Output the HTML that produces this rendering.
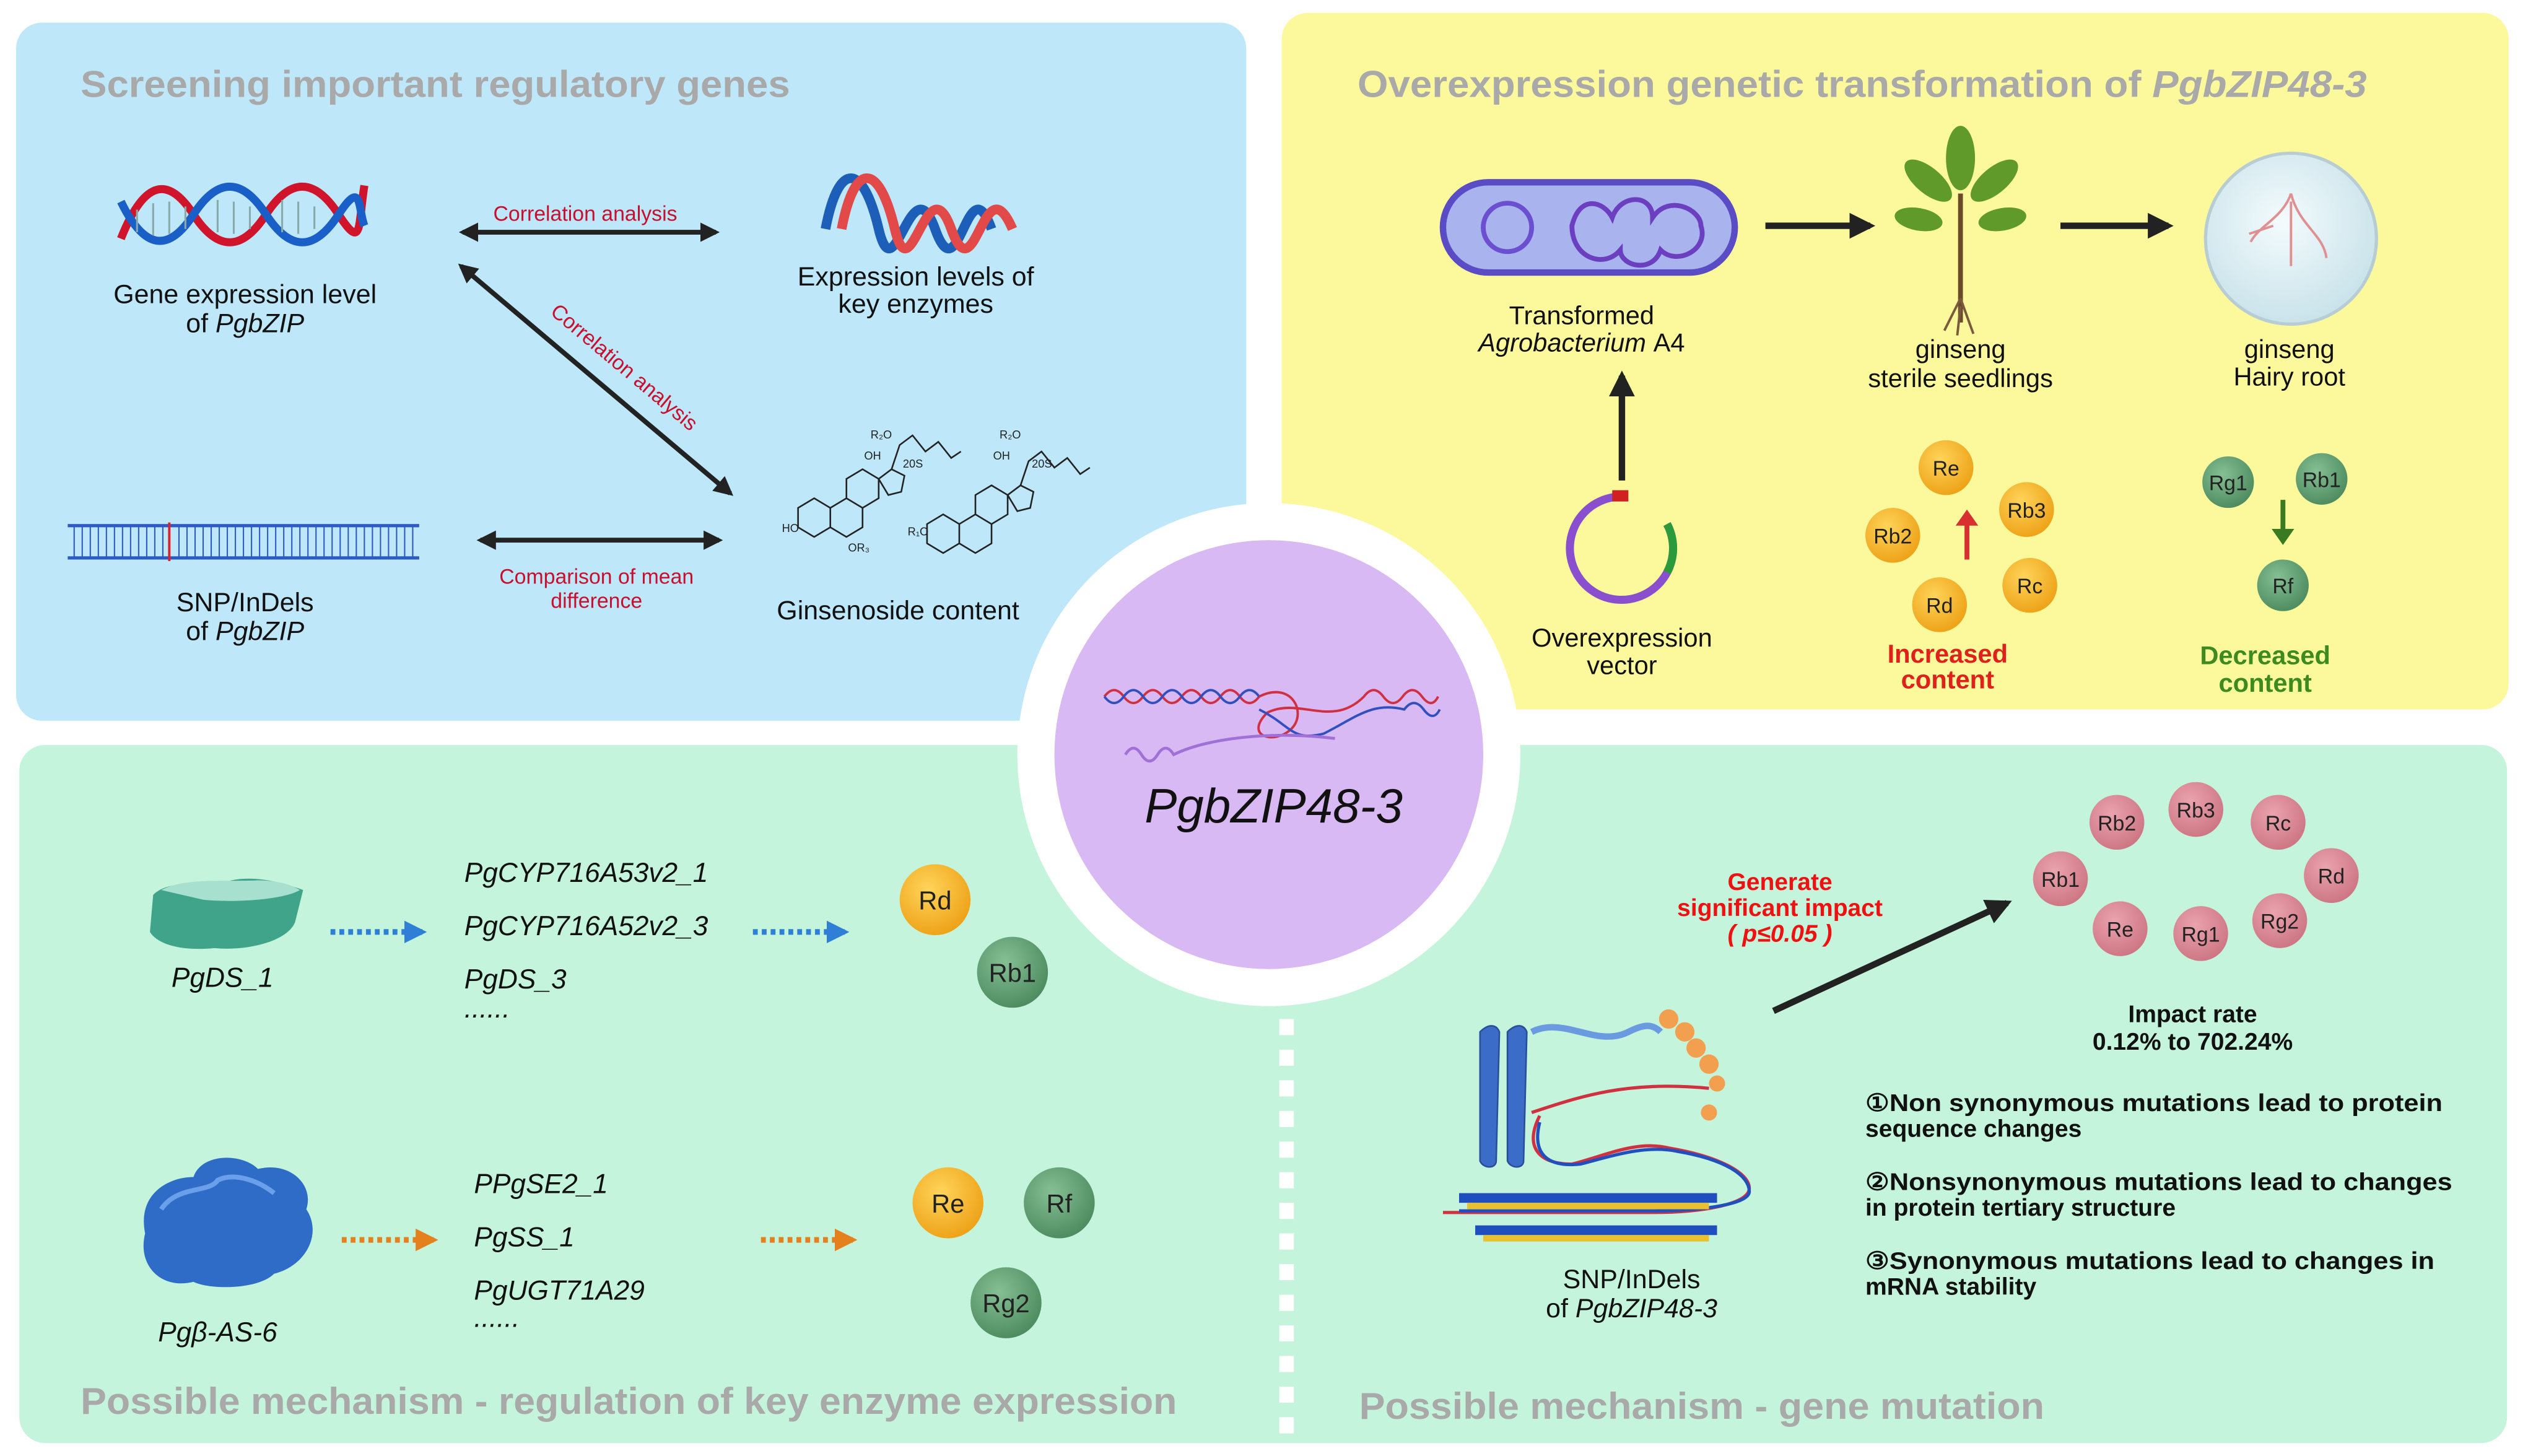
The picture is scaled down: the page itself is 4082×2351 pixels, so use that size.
<!DOCTYPE html>
<html><head><meta charset="utf-8"><style>html,body{margin:0;padding:0;background:#fff}svg{display:block}text{font-family:"Liberation Sans",sans-serif}</style></head><body>
<svg width="4082" height="2351" viewBox="0 0 1568 903" xmlns="http://www.w3.org/2000/svg">
<defs>
<marker id="ah" viewBox="0 0 10 10" refX="8" refY="5" markerWidth="4" markerHeight="4" orient="auto-start-reverse"><path d="M0,0 L10,5 L0,10 z" fill="#222"/></marker>
<marker id="ab" viewBox="0 0 10 10" refX="8" refY="5" markerWidth="4" markerHeight="4" orient="auto"><path d="M0,0 L10,5 L0,10 z" fill="#2f7fd6"/></marker>
<marker id="ao" viewBox="0 0 10 10" refX="8" refY="5" markerWidth="4" markerHeight="4" orient="auto"><path d="M0,0 L10,5 L0,10 z" fill="#e5801e"/></marker>
<radialGradient id="go" cx="0.4" cy="0.35" r="0.7"><stop offset="0" stop-color="#ffd45a"/><stop offset="1" stop-color="#eda015"/></radialGradient>
<radialGradient id="gg" cx="0.4" cy="0.35" r="0.7"><stop offset="0" stop-color="#86bf94"/><stop offset="1" stop-color="#4b8a5e"/></radialGradient>
<radialGradient id="gp" cx="0.4" cy="0.35" r="0.7"><stop offset="0" stop-color="#eaa3ad"/><stop offset="1" stop-color="#cc7482"/></radialGradient>
<radialGradient id="gd" cx="0.45" cy="0.4" r="0.6"><stop offset="0" stop-color="#f4fbfd"/><stop offset="1" stop-color="#c9e3ea"/></radialGradient>
</defs>

<!-- panels -->
<rect x="10" y="14" width="763" height="433" rx="16" fill="#bee8fa"/>
<rect x="795" y="8" width="761" height="432" rx="16" fill="#fbf99c"/>
<rect x="12" y="462" width="1543" height="433" rx="16" fill="#c4f5dc"/>
<line x1="798" y1="632" x2="798" y2="895" stroke="#fff" stroke-width="9" stroke-dasharray="10 9"/>

<!-- titles -->
<g font-weight="bold" fill="#a9a9a9" font-size="23">
<text x="50" y="60" textLength="440" lengthAdjust="spacingAndGlyphs">Screening important regulatory genes</text>
<text x="842" y="60" textLength="626" lengthAdjust="spacingAndGlyphs">Overexpression genetic transformation of <tspan font-style="italic">PgbZIP48-3</tspan></text>
<text x="50" y="877" textLength="680" lengthAdjust="spacingAndGlyphs">Possible mechanism - regulation of key enzyme expression</text>
<text x="843" y="880" textLength="425" lengthAdjust="spacingAndGlyphs">Possible mechanism - gene mutation</text>
</g>

<!-- panel 1 -->
<g stroke-width="5" fill="none">
<path d="M75,148 C90,110 105,110 120,133 S150,156 165,133 S195,110 210,133 S222,140 226,115" stroke="#d0142c"/>
<path d="M75,125 C90,156 105,156 120,133 S150,110 165,133 S195,156 210,133 S222,130 226,140" stroke="#1a5ec8"/>
</g>
<g stroke="#8aa" stroke-width="1.2"><path d="M85,130v14M95,126v20M105,125v20M115,128v14M135,124v20M145,125v20M155,128v14M175,124v20M185,125v20M195,128v14"/></g>
<g stroke-width="6" fill="none">
<path d="M512,142 C520,100 535,100 545,142 S565,100 580,142 S600,100 615,142" stroke="#1d5fb8"/>
<path d="M522,142 C530,100 545,100 555,142 S575,100 590,142 S610,100 628,142" stroke="#e24a4a"/>
</g>
<g font-size="16.5" fill="#111" text-anchor="middle">
<text x="152" y="188">Gene expression level</text>
<text x="152" y="206">of <tspan font-style="italic">PgbZIP</tspan></text>
<text x="568" y="177">Expression levels of</text>
<text x="568" y="194">key enzymes</text>
<text x="557" y="384">Ginsenoside content</text>
<text x="152" y="379">SNP/InDels</text>
<text x="152" y="397">of <tspan font-style="italic">PgbZIP</tspan></text>
</g>
<g stroke="#222" stroke-width="3">
<line x1="287" y1="144" x2="444" y2="144" marker-start="url(#ah)" marker-end="url(#ah)"/>
<line x1="286" y1="165" x2="453" y2="306" marker-start="url(#ah)" marker-end="url(#ah)"/>
<line x1="298" y1="335" x2="446" y2="335" marker-start="url(#ah)" marker-end="url(#ah)"/>
</g>
<g font-size="13" fill="#c8102e" text-anchor="middle">
<text x="363" y="137">Correlation analysis</text>
<text x="387" y="232" transform="rotate(40 387 228)">Correlation analysis</text>
<text x="370" y="362">Comparison of mean</text>
<text x="370" y="377">difference</text>
</g>
<!-- SNP ladder -->
<g stroke="#2d5bc4"><line x1="42" y1="326" x2="260" y2="326" stroke-width="2"/><line x1="42" y1="346" x2="260" y2="346" stroke-width="2"/>
<path d="M46,326v20M51,326v20M56,326v20M61,326v20M66,326v20M71,326v20M76,326v20M81,326v20M86,326v20M91,326v20M96,326v20M101,326v20M111,326v20M116,326v20M121,326v20M126,326v20M131,326v20M136,326v20M141,326v20M146,326v20M151,326v20M156,326v20M161,326v20M166,326v20M171,326v20M176,326v20M181,326v20M186,326v20M191,326v20M196,326v20M201,326v20M206,326v20M211,326v20M216,326v20M221,326v20M226,326v20M231,326v20M236,326v20M241,326v20M246,326v20M251,326v20M256,326v20" stroke-width="0.8"/></g>
<line x1="105" y1="324" x2="105" y2="348" stroke="#e0202a" stroke-width="1.5"/>
<!-- ginsenoside structures -->
<g stroke="#222" stroke-width="1" fill="none">
<path d="M495,315 l10,-6 l10,6 v12 l-10,6 l-10,-6z M515,315 l10,-6 l10,6 v12 l-10,6 l-10,-6z M525,297 l10,-6 l10,6 v12 l-10,6 l-10,-6z M545,297 l8,-6 l8,4 l-2,10 l-8,2z M553,291 l5,-15 l8,-6 l8,10 l8,-6 l8,10 l6,-4"/>
<path d="M575,325 l10,-6 l10,6 v12 l-10,6 l-10,-6z M595,325 l10,-6 l10,6 v12 l-10,6 l-10,-6z M605,307 l10,-6 l10,6 v12 l-10,6 l-10,-6z M625,307 l8,-6 l8,4 l-2,10 l-8,2z M633,301 l5,-15 l8,-6 l8,10 l8,-6 l8,10 l6,-4"/>
</g>
<g font-family="Liberation Serif" font-size="7" fill="#222"><text x="540" y="272">R₂O</text><text x="536" y="285">OH</text><text x="560" y="290">20S</text><text x="485" y="330">HO</text><text x="526" y="342">OR₃</text><text x="620" y="272">R₂O</text><text x="616" y="285">OH</text><text x="640" y="290">20S</text><text x="563" y="332">R₁O</text></g>

<!-- panel 2 -->
<rect x="895" y="113" width="181" height="56" rx="28" fill="#a9b4ef" stroke="#5a4cc4" stroke-width="4"/>
<circle cx="935" cy="141" r="15" fill="none" stroke="#6b4fd0" stroke-width="3"/>
<path d="M975,140 c5,-20 20,-15 25,-5 c5,-15 25,-15 25,0 c10,-15 30,-5 30,5 c5,15 -15,25 -25,15 c-5,15 -25,10 -25,0 c-10,12 -30,5 -30,-15z" fill="none" stroke="#6b3fbf" stroke-width="3"/>
<g stroke="#222" stroke-width="4">
<line x1="1095" y1="140" x2="1160" y2="140" marker-end="url(#ah)"/>
<line x1="1278" y1="140" x2="1345" y2="140" marker-end="url(#ah)"/>
<line x1="1006" y1="298" x2="1006" y2="233" marker-end="url(#ah)"/>
</g>
<!-- plant -->
<path d="M1216,200 V120" stroke="#6a4a2a" stroke-width="3"/>
<g fill="#5f9a2a"><ellipse cx="1216" cy="98" rx="9" ry="20"/><ellipse cx="1196" cy="112" rx="8" ry="18" transform="rotate(-50 1196 112)"/><ellipse cx="1237" cy="112" rx="8" ry="18" transform="rotate(50 1237 112)"/><ellipse cx="1190" cy="136" rx="7" ry="15" transform="rotate(-80 1190 136)"/><ellipse cx="1242" cy="136" rx="7" ry="15" transform="rotate(80 1242 136)"/></g>
<path d="M1216,185 l-10,20 M1216,185 l8,22 M1216,190 l-2,18" stroke="#7a5a3a" stroke-width="1.5"/>
<!-- dish -->
<circle cx="1421" cy="148" r="53" fill="url(#gd)" stroke="#b8ccd4" stroke-width="2"/>
<path d="M1421,120 c-5,15 -20,20 -25,30 M1421,120 c5,20 20,25 22,40 M1421,125 v40 M1410,140 l-15,5" stroke="#e09090" stroke-width="1.5" fill="none"/>
<g font-size="16" fill="#111" text-anchor="middle">
<text x="981" y="201">Transformed</text>
<text x="981" y="218" font-style="italic">Agrobacterium <tspan font-style="normal">A4</tspan></text>
<text x="1216" y="222">ginseng</text>
<text x="1216" y="240">sterile seedlings</text>
<text x="1420" y="222">ginseng</text>
<text x="1420" y="239">Hairy root</text>
<text x="1006" y="401">Overexpression</text>
<text x="1006" y="418">vector</text>
</g>
<!-- plasmid -->
<path d="M1006,308 a32,32 0 1 0 28,17" fill="none" stroke="#8a4fcf" stroke-width="5"/>
<path d="M1034,325 a32,32 0 0 1 0,30" fill="none" stroke="#2a9a3a" stroke-width="5"/>
<rect x="1000" y="304" width="10" height="7" fill="#d02020"/>
<!-- balls -->
<g font-size="13" text-anchor="middle" fill="#222">
<g><circle cx="1207" cy="290" r="17" fill="url(#go)"/><text x="1207" y="295">Re</text></g>
<g><circle cx="1174" cy="332" r="17" fill="url(#go)"/><text x="1174" y="337">Rb2</text></g>
<g><circle cx="1257" cy="316" r="17" fill="url(#go)"/><text x="1257" y="321">Rb3</text></g>
<g><circle cx="1259" cy="363" r="17" fill="url(#go)"/><text x="1259" y="368">Rc</text></g>
<g><circle cx="1203" cy="375" r="17" fill="url(#go)"/><text x="1203" y="380">Rd</text></g>
<g><circle cx="1382" cy="299" r="16" fill="url(#gg)"/><text x="1382" y="304">Rg1</text></g>
<g><circle cx="1440" cy="297" r="16" fill="url(#gg)"/><text x="1440" y="302">Rb1</text></g>
<g><circle cx="1416" cy="363" r="16" fill="url(#gg)"/><text x="1416" y="368">Rf</text></g>
</g>
<path d="M1220,347 V324" stroke="#d83030" stroke-width="3"/><path d="M1213,326 l7,-10 l7,10z" fill="#d83030"/>
<path d="M1416,310 V330" stroke="#3a7a20" stroke-width="3"/><path d="M1409,328 l7,10 l7,-10z" fill="#3a7a20"/>
<g font-size="16" font-weight="bold" text-anchor="middle">
<text x="1208" y="411" fill="#e0201a">Increased</text><text x="1208" y="427" fill="#e0201a">content</text>
<text x="1405" y="412" fill="#3d8a1e">Decreased</text><text x="1405" y="429" fill="#3d8a1e">content</text>
</g>

<!-- center circle -->
<circle cx="787" cy="468" r="156" fill="#fff"/>
<circle cx="787" cy="468" r="133" fill="#d8b9f4"/>
<path d="M685,432 q6,-8 12,0 t12,0 t12,0 t12,0 t12,0 t12,0 t12,0 t12,0" fill="none" stroke="#d03040" stroke-width="1.5"/>
<path d="M685,432 q6,8 12,0 t12,0 t12,0 t12,0 t12,0 t12,0 t12,0 t12,0" fill="none" stroke="#3050c0" stroke-width="1.5"/>
<path d="M781,432 c20,-10 30,10 20,20 c-10,10 -30,5 -15,-10 c20,-10 40,10 60,-10 q6,-8 12,0 t12,0 t12,0 t10,0" fill="none" stroke="#d03040" stroke-width="1.5"/>
<path d="M781,440 c20,10 20,20 40,15 c20,-10 30,-20 50,-15 q6,-8 12,0 t10,0" fill="none" stroke="#3050c0" stroke-width="1.5"/>
<path d="M698,468 q5,-8 10,0 t10,0 t10,0 c20,-10 60,-15 100,-10" fill="none" stroke="#a070d8" stroke-width="1.8"/>
<text x="790" y="510" font-size="30" font-style="italic" text-anchor="middle" fill="#111">PgbZIP48-3</text>

<!-- panel 3 -->
<path d="M95,555 c10,-10 30,-5 45,-8 c15,-5 35,0 48,5 l-5,20 c-5,12 -30,18 -50,16 c-20,2 -35,-2 -40,-10z" fill="#3fa48a"/>
<path d="M100,552 c15,-8 40,-5 60,-6 c10,0 20,2 26,6 c-10,6 -40,8 -60,6z" fill="#a7e0cf"/>
<path d="M90,765 c-5,-25 15,-35 30,-35 c5,-15 30,-15 40,-5 c20,-5 35,10 30,25 c10,15 0,35 -20,40 c-10,10 -40,10 -50,5 c-20,5 -35,-10 -30,-30z" fill="#2f6cc8"/>
<path d="M100,750 c10,-15 30,-10 35,-18 c10,-5 25,0 35,8" fill="none" stroke="#6aa0ea" stroke-width="3"/>
<g font-size="17" font-style="italic" fill="#111">
<text x="138" y="612" text-anchor="middle">PgDS_1</text>
<text x="135" y="832" text-anchor="middle">Pgβ-AS-6</text>
<text x="288" y="547">PgCYP716A53v2_1</text>
<text x="288" y="580">PgCYP716A52v2_3</text>
<text x="288" y="613">PgDS_3</text>
<text x="288" y="631">......</text>
<text x="294" y="740">PPgSE2_1</text>
<text x="294" y="773">PgSS_1</text>
<text x="294" y="806">PgUGT71A29</text>
<text x="294" y="823">......</text>
</g>
<g stroke-width="3.5" stroke-dasharray="3 2.5">
<line x1="205" y1="578" x2="262" y2="578" stroke="#2f7fd6" marker-end="url(#ab)"/>
<line x1="467" y1="578" x2="524" y2="578" stroke="#2f7fd6" marker-end="url(#ab)"/>
<line x1="212" y1="769" x2="269" y2="769" stroke="#e5801e" marker-end="url(#ao)"/>
<line x1="472" y1="769" x2="529" y2="769" stroke="#e5801e" marker-end="url(#ao)"/>
</g>
<g font-size="16" text-anchor="middle" fill="#222">
<circle cx="580" cy="558" r="22" fill="url(#go)"/><text x="580" y="564">Rd</text>
<circle cx="628" cy="603" r="22" fill="url(#gg)"/><text x="628" y="609">Rb1</text>
<circle cx="588" cy="746" r="22" fill="url(#go)"/><text x="588" y="752">Re</text>
<circle cx="657" cy="746" r="22" fill="url(#gg)"/><text x="657" y="752">Rf</text>
<circle cx="624" cy="808" r="22" fill="url(#gg)"/><text x="624" y="814">Rg2</text>
</g>

<!-- panel 4 -->
<g fill="#3a6cc8" stroke="#2a4f9a"><path d="M918,640 c5,-5 10,-5 12,0 l-2,80 c0,5 -8,5 -10,0z"/><path d="M935,640 c5,-5 10,-5 12,0 l-2,80 c0,5 -8,5 -10,0z"/></g>
<path d="M950,640 c20,-10 40,10 60,0 c10,-5 15,-5 20,0" fill="none" stroke="#6a9ae0" stroke-width="4"/>
<g fill="#f2a050"><circle cx="1035" cy="632" r="6"/><circle cx="1045" cy="640" r="6"/><circle cx="1052" cy="650" r="6"/><circle cx="1060" cy="660" r="6"/><circle cx="1065" cy="672" r="5"/><circle cx="1060" cy="690" r="5"/></g>
<path d="M950,690 c30,-10 60,-20 110,-15 M955,692 c-10,20 0,30 20,30 c20,-5 40,-15 60,-10 c30,5 50,15 50,25 c0,10 -30,15 -60,15 h-130" fill="none" stroke="#d03040" stroke-width="2"/>
<path d="M955,696 c-5,20 5,28 25,26 c20,-5 40,-12 60,-8 c30,5 45,15 45,25 c0,8 -30,12 -60,12 h-120" fill="none" stroke="#2050c0" stroke-width="2"/>
<rect x="905" y="740" width="160" height="6" fill="#1f4fbf"/><rect x="915" y="760" width="150" height="6" fill="#1f4fbf"/>
<g fill="#e8c030"><rect x="910" y="746" width="150" height="4"/><rect x="920" y="766" width="140" height="4"/></g>
<g font-size="16.5" fill="#111" text-anchor="middle">
<text x="1012" y="799">SNP/InDels</text>
<text x="1012" y="817">of <tspan font-style="italic">PgbZIP48-3</tspan></text>
</g>
<line x1="1100" y1="627" x2="1245" y2="560" stroke="#222" stroke-width="4" marker-end="url(#ah)"/>
<g font-size="15" font-weight="bold" fill="#ee1111" text-anchor="middle">
<text x="1104" y="552">Generate</text>
<text x="1104" y="568">significant impact</text>
<text x="1104" y="584" font-style="italic">( p≤0.05 )</text>
</g>
<g font-size="13" text-anchor="middle" fill="#222">
<circle cx="1313" cy="510" r="17" fill="url(#gp)"/><text x="1313" y="515">Rb2</text>
<circle cx="1362" cy="502" r="17" fill="url(#gp)"/><text x="1362" y="507">Rb3</text>
<circle cx="1413" cy="510" r="17" fill="url(#gp)"/><text x="1413" y="515">Rc</text>
<circle cx="1278" cy="545" r="17" fill="url(#gp)"/><text x="1278" y="550">Rb1</text>
<circle cx="1446" cy="543" r="17" fill="url(#gp)"/><text x="1446" y="548">Rd</text>
<circle cx="1315" cy="576" r="17" fill="url(#gp)"/><text x="1315" y="581">Re</text>
<circle cx="1365" cy="579" r="17" fill="url(#gp)"/><text x="1365" y="584">Rg1</text>
<circle cx="1414" cy="571" r="17" fill="url(#gp)"/><text x="1414" y="576">Rg2</text>
</g>
<g font-size="15" font-weight="bold" fill="#111">
<text x="1360" y="634" text-anchor="middle">Impact rate</text>
<text x="1360" y="651" text-anchor="middle">0.12% to 702.24%</text>
<text x="1157" y="689" textLength="358" lengthAdjust="spacingAndGlyphs">①Non synonymous mutations lead to protein</text>
<text x="1157" y="705">sequence changes</text>
<text x="1157" y="738" textLength="364" lengthAdjust="spacingAndGlyphs">②Nonsynonymous mutations lead to changes</text>
<text x="1157" y="754">in protein tertiary structure</text>
<text x="1157" y="787" textLength="353" lengthAdjust="spacingAndGlyphs">③Synonymous mutations lead to changes in</text>
<text x="1157" y="803">mRNA stability</text>
</g>
</svg>
</body></html>
